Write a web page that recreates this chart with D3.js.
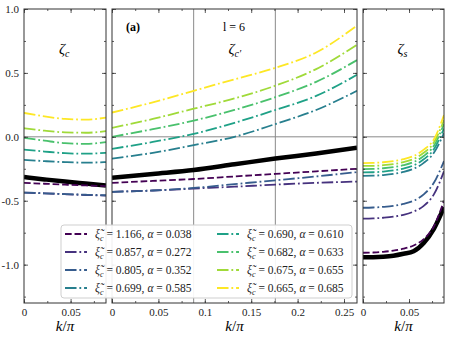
<!DOCTYPE html>
<html>
<head>
<meta charset="utf-8">
<script src="https://cdn.jsdelivr.net/npm/d3@7"></script>
<style>
  body { margin: 0; background: #fff; }
  svg { display: block; }
  svg text { font-family: 'Liberation Serif', 'DejaVu Serif', serif; }
</style>
</head>
<body>
<svg id="chart" width="450" height="339"></svg>
<script>
// legend values, series order = viridis order
const xiValues = ["1.166", "0.857", "0.805", "0.699", "0.690", "0.682", "0.675", "0.665"];
const alphaValues = ["0.038", "0.272", "0.352", "0.585", "0.610", "0.633", "0.655", "0.685"];

// k/pi samples for each panel
const kLeft = [0, 0.022, 0.044, 0.066, 0.088];
const kMid = [0, 0.044, 0.088, 0.132, 0.176, 0.22, 0.264];
const kRight = [0, 0.011, 0.022, 0.033, 0.044, 0.055, 0.066, 0.077, 0.088];

// zeta_c (left panel)
const zetaC = [
  [-0.36, -0.367, -0.374, -0.38, -0.385],
  [-0.436, -0.442, -0.449, -0.455, -0.46],
  [-0.436, -0.442, -0.448, -0.453, -0.457],
  [-0.18, -0.19, -0.198, -0.202, -0.198],
  [-0.10, -0.115, -0.128, -0.132, -0.125],
  [-0.008, -0.03, -0.05, -0.055, -0.042],
  [0.067, 0.048, 0.035, 0.032, 0.044],
  [0.187, 0.16, 0.14, 0.135, 0.15]
];
const zetaCBlack = [-0.315, -0.333, -0.35, -0.365, -0.38];

// zeta_c' (middle panel)
const zetaCp = [
  [-0.36, -0.345, -0.33, -0.31, -0.29, -0.27, -0.25],
  [-0.43, -0.42, -0.405, -0.39, -0.374, -0.36, -0.35],
  [-0.43, -0.42, -0.40, -0.37, -0.34, -0.31, -0.276],
  [-0.17, -0.125, -0.065, 0.0, 0.10, 0.21, 0.36],
  [-0.094, -0.04, 0.023, 0.11, 0.21, 0.32, 0.485],
  [0.0, 0.06, 0.127, 0.21, 0.31, 0.43, 0.60],
  [0.07, 0.14, 0.22, 0.30, 0.40, 0.53, 0.72],
  [0.19, 0.27, 0.36, 0.45, 0.54, 0.66, 0.87]
];
const zetaCpBlack = [-0.32, -0.29, -0.26, -0.215, -0.17, -0.13, -0.086];

// zeta_s (right panel)
const zetaS = [
  [-0.907, -0.905, -0.9, -0.89, -0.875, -0.85, -0.80, -0.70, -0.50],
  [-0.64, -0.638, -0.633, -0.625, -0.61, -0.585, -0.54, -0.45, -0.27],
  [-0.555, -0.553, -0.548, -0.54, -0.525, -0.5, -0.45, -0.36, -0.19],
  [-0.305, -0.304, -0.299, -0.29, -0.275, -0.25, -0.204, -0.125, 0.03],
  [-0.278, -0.277, -0.272, -0.263, -0.248, -0.223, -0.176, -0.097, 0.065],
  [-0.252, -0.251, -0.246, -0.237, -0.222, -0.197, -0.15, -0.07, 0.10],
  [-0.228, -0.227, -0.222, -0.213, -0.198, -0.173, -0.125, -0.045, 0.13],
  [-0.205, -0.204, -0.199, -0.19, -0.175, -0.15, -0.10, -0.02, 0.17]
];
const zetaSBlack = [-0.943, -0.942, -0.938, -0.93, -0.915, -0.895, -0.83, -0.72, -0.55];

const yTicks = [-1.0, -0.5, 0.0, 0.5, 1.0];

const svg = d3.select("#chart");
const color = i => d3.interpolateViridis(i / 7);
const lw = 1.8;
const dashFor = i => i === 0 ? `${3.7 * lw},${1.6 * lw}` : `${6.4 * lw},${1.6 * lw},${1.0 * lw},${1.6 * lw}`;
const serif = "'Liberation Serif', 'DejaVu Serif', serif";

const y = d3.scaleLinear().domain([-1.3, 1.0]).range([303, 9]);

const panels = [
  { x0: 24, x1: 106, dom: [0, 0.088], k: kLeft, data: zetaC, black: zetaCBlack, ticks: [0, 0.05], label: "c" },
  { x0: 112, x1: 357, dom: [0, 0.264], k: kMid, data: zetaCp, black: zetaCpBlack, ticks: [0, 0.05, 0.1, 0.15, 0.2, 0.25], label: "c′" },
  { x0: 363, x1: 444, dom: [0, 0.088], k: kRight, data: zetaS, black: zetaSBlack, ticks: [0, 0.05], label: "s" }
];

const xFmt = d => d === 0 ? "0" : String(+d.toFixed(2));

panels.forEach((p, pi) => {
  const x = d3.scaleLinear().domain(p.dom).range([p.x0, p.x1]);
  const g = svg.append("g");
  const clipId = "clip" + pi;
  svg.append("clipPath").attr("id", clipId)
    .append("rect").attr("x", p.x0).attr("y", 9).attr("width", p.x1 - p.x0).attr("height", 294);

  // zero line
  g.append("line")
    .attr("x1", p.x0).attr("x2", p.x1)
    .attr("y1", y(0)).attr("y2", y(0))
    .attr("stroke", "#8a8a8a").attr("stroke-width", 1);

  // vertical guide lines in middle panel
  if (pi === 1) {
    [0.088, 0.176].forEach(v => {
      g.append("line")
        .attr("x1", x(v)).attr("x2", x(v))
        .attr("y1", 9).attr("y2", 303)
        .attr("stroke", "#8a8a8a").attr("stroke-width", 1);
    });
  }

  const line = d3.line()
    .x((d, i) => x(p.k[i]))
    .y(d => y(d))
    .curve(d3.curveMonotoneX);

  const plot = g.append("g").attr("clip-path", `url(#${clipId})`);
  plot.append("path")
    .datum(p.black)
    .attr("fill", "none")
    .attr("stroke", "#000")
    .attr("stroke-width", 4.5)
    .attr("d", line);

  p.data.forEach((s, i) => {
    plot.append("path")
      .datum(s)
      .attr("fill", "none")
      .attr("stroke", color(i))
      .attr("stroke-width", lw)
      .attr("stroke-dasharray", dashFor(i))
      .attr("d", line);
  });

  // axes with inward ticks on all sides
  const minorX = d3.range(0, p.dom[1] + 1e-9, 0.025);
  const minorY = d3.range(-1.25, 1.0 + 1e-9, 0.25);
  const noLab = () => "";

  g.append("g").attr("transform", "translate(0,303)")
    .call(d3.axisBottom(x).tickValues(p.ticks).tickSize(-4).tickPadding(5).tickFormat(xFmt));
  g.append("g").attr("transform", "translate(0,303)")
    .call(d3.axisBottom(x).tickValues(minorX).tickSize(-2).tickFormat(noLab));
  g.append("g").attr("transform", "translate(0,9)")
    .call(d3.axisTop(x).tickValues(p.ticks).tickSize(-4).tickFormat(noLab));
  g.append("g").attr("transform", "translate(0,9)")
    .call(d3.axisTop(x).tickValues(minorX).tickSize(-2).tickFormat(noLab));

  g.append("g").attr("transform", `translate(${p.x0},0)`)
    .call(d3.axisLeft(y).tickValues(yTicks).tickSize(-4).tickPadding(5)
      .tickFormat(pi === 0 ? (d => d3.format(".1f")(d).replace("−", "-")) : noLab));
  g.append("g").attr("transform", `translate(${p.x0},0)`)
    .call(d3.axisLeft(y).tickValues(minorY).tickSize(-2).tickFormat(noLab));
  g.append("g").attr("transform", `translate(${p.x1},0)`)
    .call(d3.axisRight(y).tickValues(yTicks).tickSize(-4).tickFormat(noLab));
  g.append("g").attr("transform", `translate(${p.x1},0)`)
    .call(d3.axisRight(y).tickValues(minorY).tickSize(-2).tickFormat(noLab));

  g.selectAll(".domain").remove();
  g.selectAll("g").attr("font-family", null);
  g.selectAll(".tick line").attr("stroke", "#333").attr("stroke-width", 0.8);
  g.selectAll(".tick text").style("font-family", serif).attr("font-size", 11).attr("fill", "#222");

  // frame
  g.append("rect")
    .attr("x", p.x0).attr("y", 9)
    .attr("width", p.x1 - p.x0).attr("height", 294)
    .attr("fill", "none").attr("stroke", "#333").attr("stroke-width", 1);

  // x label
  const cx = (p.x0 + p.x1) / 2;
  const xl = g.append("text")
    .attr("x", cx).attr("y", 331)
    .attr("text-anchor", "middle")
    .attr("font-size", 15);
  xl.append("tspan").attr("font-style", "italic").text("k");
  xl.append("tspan").text("/");
  xl.append("tspan").attr("font-style", "italic").text("π");

  // panel label zeta
  const zl = g.append("text")
    .attr("x", cx - 6).attr("y", 54)
    .attr("font-size", 15)
    .attr("font-style", "italic");
  zl.append("tspan").text("ζ");
  zl.append("tspan").attr("font-size", 10).attr("dy", 3).text(p.label);
});

// annotations
svg.append("text").attr("x", 126).attr("y", 31)
  .attr("font-size", 12).attr("font-weight", "bold").text("(a)");
svg.append("text").attr("x", 234).attr("y", 31)
  .attr("text-anchor", "middle").attr("font-size", 12).text("l = 6");

// legend
const legend = svg.append("g");
legend.append("rect")
  .attr("x", 61).attr("y", 225)
  .attr("width", 291).attr("height", 73)
  .attr("rx", 3)
  .attr("fill", "#fff").attr("fill-opacity", 0.92)
  .attr("stroke", "#cfcfcf").attr("stroke-width", 1);

xiValues.forEach((xi, i) => {
  const col = i < 4 ? 0 : 1;
  const row = i % 4;
  const lx = col === 0 ? 65 : 217;
  const ly = 234 + row * 18;
  legend.append("line")
    .attr("x1", lx).attr("x2", lx + 22)
    .attr("y1", ly).attr("y2", ly)
    .attr("stroke", color(i)).attr("stroke-width", lw)
    .attr("stroke-dasharray", dashFor(i));
  const t = legend.append("text")
    .attr("x", lx + 30).attr("y", ly + 4)
    .attr("font-size", 11.5).attr("fill", "#222");
  t.append("tspan").attr("font-style", "italic").text("ξ\u0303");
  t.append("tspan").attr("font-style", "italic").attr("font-size", 8).attr("dy", 2.5).text("c");
  t.append("tspan").attr("dy", -2.5).text(` = ${xi}, `);
  t.append("tspan").attr("font-style", "italic").text("α");
  t.append("tspan").text(` = ${alphaValues[i]}`);
});
</script>
</body>
</html>
